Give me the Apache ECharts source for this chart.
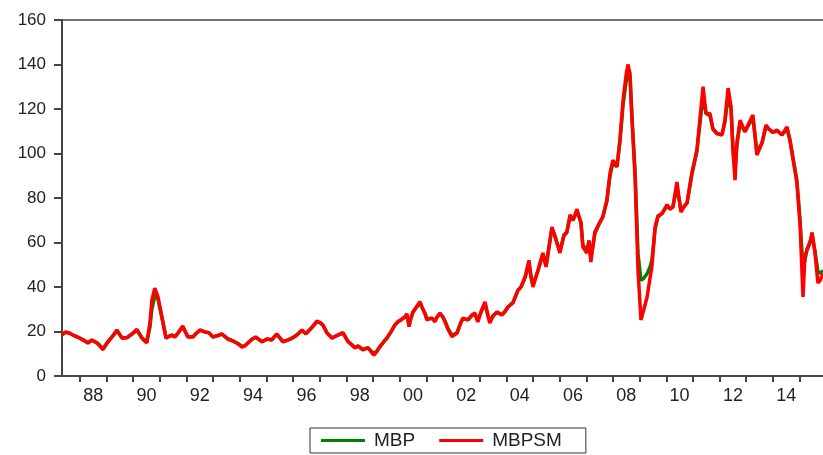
<!DOCTYPE html>
<html>
<head>
<meta charset="utf-8">
<script src="https://cdn.jsdelivr.net/npm/echarts@6/dist/echarts.min.js"></script>
<style>
  html, body { margin: 0; padding: 0; background: #fff; }
  #chart { width: 823px; height: 455px; }
</style>
</head>
<body>
<div id="chart"></div>
<script>
// time in decimal years
var years = [
  1987.33, 1987.47, 1987.62, 1987.81, 1988.00, 1988.15, 1988.30, 1988.45, 1988.64, 1988.75,
  1988.86, 1989.05, 1989.20, 1989.31, 1989.39, 1989.58, 1989.76, 1989.95, 1990.14, 1990.33,
  1990.51, 1990.63, 1990.70, 1990.81, 1990.93, 1991.08, 1991.23, 1991.34, 1991.45, 1991.56,
  1991.68, 1991.86, 1992.05, 1992.24, 1992.35, 1992.50, 1992.69, 1992.84, 1992.99, 1993.18,
  1993.33, 1993.55, 1993.74, 1993.93, 1994.08, 1994.19, 1994.30, 1994.45, 1994.60, 1994.83,
  1995.02, 1995.20, 1995.39, 1995.62, 1995.77, 1995.88, 1996.03, 1996.14, 1996.33, 1996.48,
  1996.71, 1996.89, 1997.01, 1997.12, 1997.27, 1997.46, 1997.68, 1997.87, 1998.06, 1998.21,
  1998.32, 1998.43, 1998.62, 1998.81, 1998.92, 1999.03, 1999.14, 1999.26, 1999.41, 1999.52,
  1999.71, 1999.82, 1999.93, 2000.08, 2000.20, 2000.27, 2000.35, 2000.42, 2000.50, 2000.65,
  2000.76, 2000.83, 2000.95, 2001.02, 2001.13, 2001.21, 2001.32, 2001.40, 2001.51, 2001.62,
  2001.70, 2001.81, 2001.96, 2002.15, 2002.26, 2002.37, 2002.56, 2002.71, 2002.82, 2002.93,
  2003.05, 2003.20, 2003.31, 2003.38, 2003.50, 2003.65, 2003.83, 2003.95, 2004.06, 2004.25,
  2004.44, 2004.55, 2004.70, 2004.85, 2004.92, 2005.00, 2005.19, 2005.37, 2005.49, 2005.60,
  2005.71, 2005.82, 2005.90, 2006.01, 2006.16, 2006.27, 2006.39, 2006.50, 2006.65, 2006.80,
  2006.87, 2007.02, 2007.10, 2007.17, 2007.32, 2007.51, 2007.62, 2007.77, 2007.89, 2008.00,
  2008.15, 2008.26, 2008.38, 2008.49, 2008.56, 2008.64, 2008.71, 2008.83, 2008.94, 2009.05,
  2009.16, 2009.28, 2009.39, 2009.46, 2009.58, 2009.69, 2009.84, 2010.03, 2010.14, 2010.25,
  2010.40, 2010.55, 2010.66, 2010.78, 2010.96, 2011.15, 2011.26, 2011.38, 2011.49, 2011.64,
  2011.75, 2011.90, 2012.09, 2012.20, 2012.32, 2012.43, 2012.50, 2012.58, 2012.65, 2012.77,
  2012.95, 2013.10, 2013.25, 2013.40, 2013.59, 2013.74, 2013.85, 2014.00, 2014.15, 2014.34,
  2014.53, 2014.64, 2014.72, 2014.83, 2014.90, 2015.02, 2015.13, 2015.20, 2015.28, 2015.39,
  2015.47, 2015.58, 2015.69, 2015.77, 2015.88
];

var mbpsm = [
  18.5, 19.8, 19.2, 18.0, 17.0, 16.0, 14.8, 16.2, 14.8, 13.5,
  11.8, 15.4, 17.5, 19.3, 20.7, 17.0, 17.2, 18.9, 21.0, 17.0,
  14.8, 24.0, 34.0, 39.5, 35.6, 26.6, 17.0, 17.8, 18.4, 17.5,
  19.3, 22.5, 17.5, 17.5, 19.0, 20.7, 19.8, 19.5, 17.5, 18.2,
  18.9, 16.6, 15.7, 14.5, 13.0, 13.5, 14.8, 16.5, 17.5, 15.3,
  16.6, 16.2, 18.9, 15.3, 16.0, 16.6, 17.5, 18.4, 20.7, 18.9,
  22.0, 24.7, 24.0, 22.9, 19.3, 17.0, 18.4, 19.5, 15.4, 13.8,
  12.6, 13.5, 11.7, 12.7, 11.0, 9.4, 11.0, 13.2, 15.5, 17.0,
  20.7, 23.0, 24.4, 25.5, 26.7, 28.0, 22.2, 26.0, 28.9, 31.5,
  33.4, 31.1, 28.0, 25.2, 25.8, 26.0, 24.4, 26.5, 28.3, 26.5,
  24.4, 21.0, 17.7, 19.3, 23.0, 26.0, 25.2, 27.4, 28.3, 24.3,
  29.0, 33.3, 27.0, 23.8, 27.0, 28.8, 27.4, 29.0, 31.0, 33.0,
  38.7, 40.0, 44.5, 52.0, 45.0, 40.0, 47.6, 55.3, 49.0, 58.0,
  67.0, 63.0, 59.8, 55.3, 63.4, 64.7, 72.4, 70.0, 75.0, 68.8,
  58.0, 55.3, 61.0, 51.2, 64.7, 69.2, 71.5, 79.0, 91.2, 97.0,
  94.0, 106.0, 124.0, 135.0, 140.0, 136.0, 116.4, 89.4, 47.6, 25.2,
  30.0, 35.5, 44.0, 49.0, 67.0, 72.0, 73.0, 77.0, 75.0, 76.0,
  87.2, 73.7, 76.0, 77.8, 91.2, 101.6, 115.0, 130.0, 118.0, 118.0,
  111.0, 109.0, 108.3, 115.0, 129.4, 121.0, 101.6, 88.0, 104.7, 115.0,
  109.7, 113.7, 117.3, 99.3, 104.7, 112.8, 111.0, 109.5, 110.6, 108.3,
  112.0, 106.0, 100.0, 92.0, 86.7, 68.0, 35.5, 53.5, 56.6, 60.0,
  64.5, 55.3, 41.8, 43.0, 46.0
];

var mbp = [
  18.5, 19.6, 19.2, 18.0, 17.0, 16.0, 15.0, 16.0, 15.0, 13.8,
  12.2, 15.2, 17.5, 19.0, 20.3, 17.2, 17.2, 18.7, 20.6, 17.2,
  15.2, 22.0, 30.0, 36.0, 34.5, 26.0, 17.5, 17.8, 18.4, 17.6,
  19.2, 22.0, 17.8, 17.6, 19.0, 20.5, 19.8, 19.4, 17.6, 18.2,
  18.8, 16.8, 15.8, 14.6, 13.3, 13.6, 14.8, 16.4, 17.4, 15.5,
  16.6, 16.3, 18.7, 15.5, 16.0, 16.6, 17.5, 18.4, 20.5, 19.0,
  21.8, 24.3, 24.0, 22.8, 19.5, 17.2, 18.4, 19.3, 15.6, 14.0,
  12.8, 13.5, 11.9, 12.7, 11.3, 10.2, 11.2, 13.2, 15.5, 17.0,
  20.5, 23.0, 24.3, 25.5, 26.5, 27.6, 23.0, 26.0, 28.6, 31.2,
  32.8, 31.0, 28.0, 25.6, 25.8, 26.0, 24.6, 26.5, 28.0, 26.5,
  24.6, 21.4, 18.3, 19.4, 23.0, 25.8, 25.3, 27.2, 28.0, 24.8,
  28.6, 32.5, 27.2, 24.5, 27.0, 28.6, 27.5, 29.0, 31.0, 33.0,
  38.5, 40.0, 44.0, 50.5, 45.0, 41.0, 47.4, 54.5, 49.5, 58.0,
  66.0, 63.0, 59.8, 56.0, 63.0, 64.5, 71.5, 70.0, 74.0, 69.0,
  59.0, 56.0, 60.5, 53.0, 64.0, 69.0, 71.5, 78.5, 90.0, 96.0,
  94.0, 105.0, 122.0, 132.0, 136.0, 134.0, 117.0, 92.0, 55.0, 43.0,
  44.0, 46.0, 49.0, 52.0, 66.0, 71.5, 73.0, 76.5, 75.0, 76.0,
  85.0, 74.5, 76.0, 77.8, 90.5, 101.0, 113.0, 126.0, 118.0, 117.0,
  111.0, 109.0, 108.5, 114.0, 126.0, 120.0, 103.0, 94.0, 104.0, 113.5,
  110.0, 113.0, 116.0, 101.0, 104.7, 112.0, 111.0, 109.5, 110.2, 108.5,
  111.0, 106.0, 100.5, 93.0, 88.0, 70.0, 48.0, 52.0, 57.0, 60.0,
  63.5, 56.0, 47.0, 46.0, 47.5
];

var tickYears = [1988, 1989, 1990, 1991, 1992, 1993, 1994, 1995, 1996, 1997, 1998, 1999, 2000, 2001,
  2002, 2003, 2004, 2005, 2006, 2007, 2008, 2009, 2010, 2011, 2012, 2013, 2014, 2015];
var labelYears = [1988, 1990, 1992, 1994, 1996, 1998, 2000, 2002, 2004, 2006, 2008, 2010, 2012, 2014];

function pairs(vals) {
  return years.map(function (t, i) { return [t, vals[i]]; });
}

var myChart = echarts.init(document.getElementById('chart'));
myChart.setOption({
  animation: false,
  textStyle: { fontFamily: 'Liberation Sans, Arial, sans-serif' },
  grid: { left: 62, right: 0, top: 20, bottom: 79 },
  legend: {
    left: 310,
    top: 428,
    data: ['MBP', 'MBPSM'],
    icon: 'rect',
    itemWidth: 44,
    itemHeight: 3,
    itemGap: 24,
    padding: [3, 24, 3, 11],
    borderColor: '#333',
    borderWidth: 1,
    textStyle: { fontSize: 19, color: '#222', padding: [0, 0, 0, 4] }
  },
  xAxis: [{
    type: 'value',
    min: 1987.33,
    max: 2015.88,
    splitLine: { show: false },
    axisLine: { lineStyle: { color: '#444', width: 2 } },
    axisTick: {
      show: true,
      length: 6,
      lineStyle: { color: '#444', width: 2 },
      customValues: tickYears
    },
    axisLabel: {
      fontSize: 18,
      color: '#222',
      margin: 11,
      customValues: labelYears.map(function (y) { return y + 0.5; }),
      formatter: function (v) {
        var y = Math.floor(v) % 100;
        return (y < 10 ? '0' : '') + y;
      }
    }
  }, {
    type: 'value',
    position: 'top',
    min: 1987.33,
    max: 2015.88,
    splitLine: { show: false },
    axisLine: { show: true, lineStyle: { color: '#444', width: 1.5 } },
    axisTick: { show: false },
    axisLabel: { show: false }
  }],
  yAxis: {
    type: 'value',
    min: 0,
    max: 160,
    interval: 20,
    splitLine: { show: false },
    axisLine: { show: true, lineStyle: { color: '#444', width: 2 } },
    axisTick: { show: true, length: 8, lineStyle: { color: '#444', width: 2 } },
    axisLabel: { fontSize: 17, color: '#222', margin: 16 }
  },
  series: [{
    name: 'MBP',
    type: 'line',
    showSymbol: false,
    color: '#008000',
    lineStyle: { width: 3.5, color: '#008000' },
    data: pairs(mbp)
  }, {
    name: 'MBPSM',
    type: 'line',
    showSymbol: false,
    color: '#ff0000',
    lineStyle: { width: 3.5, color: '#ff0000' },
    data: pairs(mbpsm)
  }]
});
</script>
</body>
</html>
